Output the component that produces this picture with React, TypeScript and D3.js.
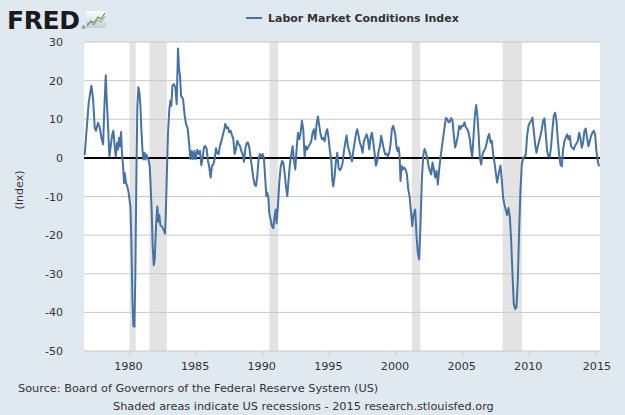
import React from 'react';
import * as d3 from 'd3';

const seriesName = 'Labor Market Conditions Index';
const yAxisTitle = '(Index)';
const sourceNote = 'Source: Board of Governors of the Federal Reserve System (US)';
const shadeNote = 'Shaded areas indicate US recessions - 2015 research.stlouisfed.org';

const yTicks = [-50, -40, -30, -20, -10, 0, 10, 20, 30];
const xTicks = [1980, 1985, 1990, 1995, 2000, 2005, 2010, 2015];

const recessionStarts = [1980.0, 1981.5, 1990.5, 2001.2, 2008.0];
const recessionEnds = [1980.47, 1982.8, 1991.15, 2001.82, 2009.45];

const obsYears = [
  1976.64, 1976.94, 1977.14, 1977.27, 1977.39, 1977.49, 1977.64, 1977.77, 1977.89, 1978.02,
  1978.12, 1978.22, 1978.29, 1978.39, 1978.49, 1978.59, 1978.69, 1978.79, 1978.89, 1978.97,
  1979.07, 1979.14, 1979.22, 1979.29, 1979.37, 1979.44, 1979.52, 1979.59, 1979.64, 1979.74,
  1979.84, 1979.94, 1980.07, 1980.14, 1980.22, 1980.29, 1980.37, 1980.44, 1980.52, 1980.59,
  1980.67, 1980.74, 1980.82, 1980.89, 1980.97, 1981.04, 1981.12, 1981.19, 1981.27, 1981.34,
  1981.42, 1981.52, 1981.59, 1981.67, 1981.74, 1981.82, 1981.89, 1981.99, 1982.09, 1982.17,
  1982.24, 1982.32, 1982.44, 1982.57, 1982.67, 1982.74, 1982.82, 1982.89, 1982.99, 1983.07,
  1983.14, 1983.22, 1983.32, 1983.44, 1983.54, 1983.64, 1983.72, 1983.79, 1983.87, 1984.02,
  1984.14,
  1984.24, 1984.37, 1984.49, 1984.57, 1984.67, 1984.77, 1984.87, 1984.97, 1985.09, 1985.19,
  1985.29, 1985.39, 1985.49, 1985.59, 1985.69, 1985.79, 1985.89, 1985.99, 1986.09, 1986.19,
  1986.29, 1986.39, 1986.49, 1986.59, 1986.69, 1986.79, 1986.89, 1986.99, 1987.09, 1987.19,
  1987.29, 1987.39, 1987.49, 1987.59, 1987.69, 1987.79, 1987.89, 1987.99, 1988.09, 1988.19,
  1988.29, 1988.39, 1988.49, 1988.59, 1988.69, 1988.79, 1988.89, 1988.99, 1989.09, 1989.19,
  1989.29, 1989.39, 1989.49, 1989.59, 1989.69, 1989.79, 1989.89, 1989.99, 1990.09, 1990.19,
  1990.27, 1990.34, 1990.42, 1990.49, 1990.59, 1990.69, 1990.79, 1990.89, 1990.97, 1991.04,
  1991.14, 1991.24, 1991.34, 1991.44, 1991.54, 1991.64, 1991.74, 1991.84, 1991.94,
  1992.04, 1992.24, 1992.34, 1992.44, 1992.54, 1992.64, 1992.74, 1992.84, 1992.94, 1993.04,
  1993.14, 1993.24, 1993.34, 1993.44, 1993.54, 1993.64, 1993.74, 1993.84, 1993.94, 1994.04,
  1994.14, 1994.24, 1994.34, 1994.44, 1994.54, 1994.64, 1994.74, 1994.84, 1994.94, 1995.04,
  1995.14, 1995.22, 1995.29, 1995.39, 1995.49, 1995.59, 1995.69, 1995.79, 1995.89, 1995.99,
  1996.09, 1996.19, 1996.29, 1996.39, 1996.49, 1996.59, 1996.69, 1996.79, 1996.89, 1996.99,
  1997.09, 1997.19, 1997.29, 1997.39, 1997.49, 1997.59, 1997.69, 1997.79, 1997.89, 1997.99,
  1998.09, 1998.19, 1998.29, 1998.39, 1998.49, 1998.59, 1998.69, 1998.79, 1998.89, 1998.99,
  1999.09, 1999.19, 1999.29, 1999.39, 1999.49, 1999.59, 1999.69, 1999.79,
  1999.94, 2000.04, 2000.12, 2000.19, 2000.27, 2000.34, 2000.42, 2000.52, 2000.62, 2000.72,
  2000.82, 2000.92, 2001.02, 2001.12, 2001.22, 2001.32, 2001.44, 2001.54, 2001.64, 2001.74,
  2001.84, 2001.94, 2002.04, 2002.14, 2002.24, 2002.34, 2002.44, 2002.54, 2002.64, 2002.74,
  2002.84, 2002.94, 2003.04, 2003.14, 2003.24, 2003.34, 2003.44, 2003.54, 2003.64, 2003.74,
  2003.84, 2003.94, 2004.04, 2004.14, 2004.24, 2004.34, 2004.44, 2004.54, 2004.64, 2004.74,
  2004.84, 2004.94, 2005.04, 2005.14, 2005.24, 2005.34, 2005.44, 2005.54, 2005.64, 2005.72,
  2005.82, 2005.92, 2006.02, 2006.12, 2006.22, 2006.29, 2006.39, 2006.49, 2006.59, 2006.69,
  2006.79, 2006.89, 2006.99, 2007.09, 2007.19, 2007.29, 2007.39, 2007.49, 2007.59,
  2007.74, 2007.84, 2007.94, 2008.04, 2008.14, 2008.24, 2008.34, 2008.44, 2008.54, 2008.64,
  2008.74, 2008.84, 2008.94, 2009.04, 2009.14, 2009.24, 2009.34, 2009.44, 2009.54, 2009.64,
  2009.74, 2009.84, 2009.94, 2010.04, 2010.14, 2010.24, 2010.34, 2010.44, 2010.54, 2010.64,
  2010.74, 2010.84, 2010.94, 2011.04, 2011.14, 2011.24, 2011.34, 2011.44, 2011.54, 2011.64,
  2011.74, 2011.84, 2011.94, 2012.04, 2012.14, 2012.24, 2012.34, 2012.44, 2012.54, 2012.64,
  2012.74, 2012.84, 2012.94, 2013.04, 2013.14, 2013.24, 2013.34, 2013.44, 2013.54, 2013.64,
  2013.74, 2013.84, 2013.94, 2014.04, 2014.14, 2014.24, 2014.34, 2014.44, 2014.54, 2014.64,
  2014.74, 2014.84, 2014.94, 2015.04, 2015.14, 2015.22,
];

const lmciValues = [
  0.9, 14.3, 18.7, 15.2, 7.8, 7.0, 9.1, 7.8, 5.2, 3.5,
  13.5, 21.4, 15.2, 8.3, 0.4, 3.0, 5.7, 7.0, 3.0, 0.4,
  3.9, 2.2, 5.2, 3.0, 6.7, 0.9, -2.2, -6.5, -3.9, -6.5,
  -7.4, -9.1, -12.6, -21.3, -37.0, -43.5, -43.7, -30.0, -3.9, 13.5,
  18.3, 17.0, 13.5, 7.4, 2.2, -0.4, 1.3, -0.4, 0.9, 0.0,
  -0.4, -2.2, -7.4, -14.3, -23.0, -27.8, -26.5, -17.8, -12.6, -16.5,
  -14.8, -17.4, -17.8, -18.7, -19.6, -12.6, -2.2, 6.5, 12.6, 14.8,
  13.5, 18.7, 19.1, 18.3, 13.9, 28.3, 23.0, 21.3, 16.1, 15.2,
  11.0,
  8.8, 7.5, 3.1, -0.3, 1.8, -0.3, 1.8, -0.3, 2.1, 1.0,
  1.8, -1.9, 0.1, 2.7, 3.1, 2.3, -0.8, -2.5, -5.1, -2.1,
  -1.7, -0.3, 2.5, 1.2, 1.0, 3.1, 4.2, 5.7, 7.0, 8.8,
  7.7, 7.9, 6.6, 7.0, 5.9, 4.9, 1.0, 2.3, 4.4, 3.6,
  3.1, 1.8, 1.0, -1.0, 2.3, 3.8, 4.0, 2.7, 0.0, -2.5,
  -5.1, -6.9, -7.3, -4.7, -0.3, 1.0, 0.1, 1.0, -0.3, -5.6,
  -9.9, -9.0, -10.3, -14.3, -16.0, -17.7, -18.2, -15.1, -13.4, -16.9,
  -12.5, -6.4, -2.5, -0.8, -1.2, -3.8, -7.3, -9.9, -5.6,
  -1.5, 3.0, -0.4, -3.0, 2.2, 6.5, 4.8, 6.5, 9.6, 7.4,
  0.4, 3.0, 2.2, 3.0, 3.5, 4.3, 6.5, 7.4, 4.8, 8.7,
  10.7, 8.3, 6.1, 4.8, 5.2, 4.3, 6.5, 7.4, 5.2, 1.7,
  -0.4, -5.7, -7.4, -4.8, -0.9, 1.3, -2.6, -3.2, -2.6, -1.3,
  1.7, 3.9, 5.8, 3.0, 1.7, 0.4, -0.9, 1.7, 3.9, 6.1,
  7.4, 5.7, 3.9, 3.0, 1.3, 4.3, 5.2, 6.1, 4.8, 2.2,
  5.2, 6.5, 4.3, 1.3, -2.0, -0.9, 1.7, 3.0, 5.7, 3.9,
  2.2, 0.9, 1.1, 0.4, 1.3, 3.5, 7.4, 8.3,
  6.2, 2.7, 1.8, 2.7, 0.5, -6.0, -2.1, -3.0, -2.5, -3.0,
  -4.3, -8.2, -9.9, -13.8, -17.7, -14.7, -13.4, -20.3, -24.7, -26.3,
  -16.9, -5.6, 0.5, 2.3, 1.4, 0.1, -2.1, -3.4, -4.3, -1.2,
  -3.0, -5.1, -3.4, -6.9, -3.0, 0.1, 2.7, 5.3, 7.9, 10.3,
  10.1, 9.2, 9.4, 10.3, 9.6, 5.7, 2.7, 4.0, 5.7, 8.3,
  7.5, 8.3, 8.3, 9.2, 7.9, 7.5, 6.6, 4.9, 1.8, 0.3,
  5.7, 11.0, 13.7, 10.4, 4.9, 0.1, -1.7, 0.9, 1.8, 2.3,
  3.6, 5.3, 6.2, 4.0, 4.4, 0.9, -1.2, -3.8, -6.4,
  -3.5, -2.0, -5.7, -10.4, -12.2, -13.5, -14.8, -13.0, -15.2, -21.3,
  -30.0, -37.8, -39.1, -38.7, -31.7, -18.7, -8.3, -1.7, 0.0, 0.3,
  0.9, 5.7, 8.3, 9.1, 9.6, 10.4, 7.0, 3.5, 1.3, 3.0,
  4.3, 5.7, 7.4, 9.6, 10.2, 6.1, 1.7, 0.4, 0.3, 3.0,
  7.4, 10.9, 11.7, 9.6, 4.8, 0.9, -1.7, -2.2, 2.2, 4.3,
  5.2, 6.1, 4.8, 5.7, 3.0, 2.6, 2.2, 3.2, 3.7, 4.3,
  6.5, 5.2, 2.6, 3.9, 7.0, 7.6, 5.2, 3.0, 4.3, 5.7,
  6.5, 7.0, 6.1, 1.7, -0.9, -2.0,
];

const FONT = "'DejaVu Sans', Verdana, sans-serif";

export default function App() {
  const W = 625;
  const H = 415;
  const left = 84;
  const right = 600;
  const top = 42;
  const bottom = 351;

  const x = d3.scaleLinear().domain([1976.586, 2015.308]).range([left, right]);
  const y = d3.scaleLinear().domain([-50, 30]).range([bottom, top]);

  const pts: [number, number][] = obsYears.map((t, i) => [t, lmciValues[i]]);
  const line = d3
    .line<[number, number]>()
    .x((d) => x(d[0]))
    .y((d) => y(d[1]));

  return (
    <svg
      width={W}
      height={H}
      style={{ position: 'absolute', left: 0, top: 0, display: 'block' }}
      fontFamily={FONT}
    >
      <rect x={0} y={0} width={W} height={H} fill="#e1e9f0" />
      {/* FRED logo */}
      <text x={7} y={29} fontSize={25} fontWeight="bold" fill="#1a1a1a" letterSpacing={-0.4}>
        FRED
      </text>
      <text x={81} y={29} fontSize={5} fill="#333">
        ®
      </text>
      <defs>
        <linearGradient id="icon" x1="0" y1="0" x2="0" y2="1">
          <stop offset="0" stopColor="#ffffff" />
          <stop offset="1" stopColor="#c8ccd0" />
        </linearGradient>
      </defs>
      <rect x={86} y={11} width={20} height={17} fill="url(#icon)" />
      <polyline
        points="87,26 91,21 94,23 98,17 101,19 105,13"
        fill="none"
        stroke="#5a9a3a"
        strokeWidth={1.2}
      />
      <polyline
        points="87,24 90,22 94,25 98,20 101,22 105,16"
        fill="none"
        stroke="#6a8fc0"
        strokeWidth={0.8}
      />

      {/* legend */}
      <line x1={246} x2={262} y1={18} y2={18} stroke="#4572a7" strokeWidth={2} />
      <text x={268} y={22} fontSize={11} fontWeight="bold" fill="#333">
        {seriesName}
      </text>

      {/* plot area */}
      <rect x={left} y={top} width={right - left} height={bottom - top} fill="#ffffff" />
      {recessionStarts.map((s, i) => (
        <rect
          key={'r' + i}
          x={x(s)}
          y={top}
          width={x(recessionEnds[i]) - x(s)}
          height={bottom - top}
          fill="#e3e3e3"
        />
      ))}
      {yTicks.map((t) => (
        <line key={'g' + t} x1={left} x2={right} y1={y(t)} y2={y(t)} stroke="#c8c8c8" strokeWidth={1} />
      ))}
      {yTicks.map((t) => (
        <text
          key={'yl' + t}
          x={63}
          y={y(t) + 4}
          fontSize={11}
          fill="#333"
          textAnchor="end"
        >
          {t}
        </text>
      ))}
      {xTicks.map((t) => (
        <g key={'x' + t}>
          <line x1={x(t)} x2={x(t)} y1={bottom} y2={bottom + 5} stroke="#c0d0e0" strokeWidth={1} />
          <text x={t === 2015 ? x(t) + 1 : x(t) - 1} y={370} fontSize={11.2} fill="#333" textAnchor="middle">
            {t}
          </text>
        </g>
      ))}
      <text
        transform={`translate(23,190) rotate(-90)`}
        fontSize={11}
        fill="#333"
        textAnchor="middle"
      >
        {yAxisTitle}
      </text>

      <line x1={left} x2={right} y1={y(0)} y2={y(0)} stroke="#000" strokeWidth={2} />
      <path
        d={line(pts) || ''}
        fill="none"
        stroke="#4572a7"
        strokeWidth={2}
        strokeLinejoin="round"
        strokeLinecap="round"
      />

      {/* footer */}
      <text x={18} y={392} fontSize={11.3} fill="#333">
        {sourceNote}
      </text>
      <text x={113} y={410} fontSize={11.3} fill="#333">
        {shadeNote}
      </text>
    </svg>
  );
}
